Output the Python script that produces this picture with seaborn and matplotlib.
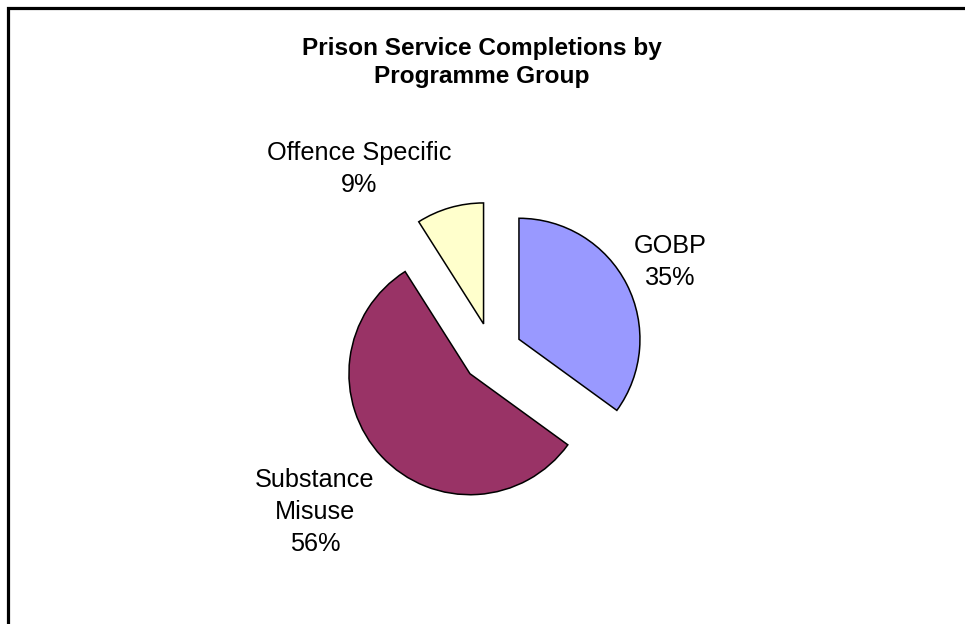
import matplotlib
matplotlib.use("Agg")
import matplotlib.pyplot as plt
from matplotlib.patches import Rectangle
import seaborn as sns

# ---- data ----
categories = ["GOBP", "Substance\nMisuse", "Offence Specific"]
values = [35, 56, 9]
colors = ["#9999FF", "#993366", "#FFFFCC"]
title = "Prison Service Completions by\nProgramme Group"

sns.set_theme(style="white")
plt.rcParams["font.family"] = ["Liberation Sans", "DejaVu Sans"]

W, H = 965, 624
fig = plt.figure(figsize=(W / 100, H / 100), dpi=100)
fig.patch.set_facecolor("white")
ax = fig.add_axes([0, 0, 1, 1])

total = sum(values)
labels = [f"{c}\n{round(100 * v / total)}%" for c, v in zip(categories, values)]

R = 121
wedges, texts = ax.pie(
    values,
    labels=labels,
    colors=colors,
    startangle=90,
    counterclock=False,
    explode=[0.25 * R] * len(values),
    radius=R,
    center=(492, H - 353),
    labeldistance=1.3,
    wedgeprops=dict(edgecolor="black", linewidth=1.1),
    textprops=dict(fontsize=18.2, color="black", ha="center", va="center",
                   multialignment="center", linespacing=1.43),
    frame=False,
)

# label placement (layout as in the reference)
label_pos = [(670, 262), (315, 512), (359, 169)]
for t, (x, y) in zip(texts, label_pos):
    t.set_position((x, H - y))
    t.set_ha("center")
    t.set_va("center")

ax.set_xlim(0, W)
ax.set_ylim(0, H)
ax.set_aspect("equal", adjustable="box")
ax.axis("off")

fig.text(482 / W, 1 - 62.5 / H, title, ha="center", va="center",
         fontsize=17.6, fontweight="bold", multialignment="center",
         linespacing=1.3, color="black")

# chart-area border (only top and left edges fall inside the image)
fig.add_artist(Rectangle((7.5 / W, -0.2), 1.2, 1.2 - 7.5 / H,
                         transform=fig.transFigure, fill=False,
                         edgecolor="black", linewidth=2.3, clip_on=False))

fig.savefig("out.png", dpi=100, facecolor="white")
